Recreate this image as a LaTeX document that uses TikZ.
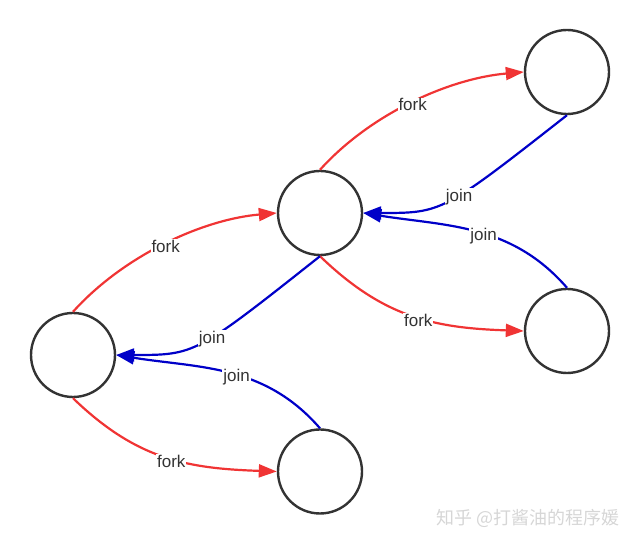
\documentclass[tikz,border=0pt]{standalone}
\usepackage{fontspec}
\setmainfont{Liberation Sans}
\newfontfamily\cjkfont{Noto Sans CJK SC}
\usetikzlibrary{arrows.meta,calc}
\definecolor{forkred}{HTML}{F03434}
\definecolor{joinblue}{HTML}{0000C8}
\definecolor{ink}{HTML}{333333}
\tikzset{
  state/.style={circle,draw=ink,line width=2.4pt,minimum size=84pt,inner sep=0pt},
  forkedge/.style={draw=forkred,line width=2.2pt,-{Triangle[length=18pt,width=13pt]}},
  joinedge/.style={draw=joinblue,line width=2.2pt,-{Triangle[length=18pt,width=13pt]}},
  lbl/.style={fill=white,text=ink,font=\fontsize{17}{20}\selectfont,inner sep=1pt,yshift=-2.5pt},
  fabout/.style={out=48,in=185,looseness=0.85},
  faeout/.style={out=-44,in=178,looseness=1.05},
  jeaout/.style={out=131,in=-9}
}
\begin{document}
\begin{tikzpicture}[x=1pt,y=1pt]
\useasboundingbox (0,0) rectangle (640,545);
\node[state] (A) at (73,190) {};
\node[state] (B) at (320,332) {};
\node[state] (C) at (567,473) {};
\node[state] (D) at (567,214) {};
\node[state] (E) at (320,73.5) {};
% fork edges
\draw[forkedge] (A.north) to[fabout] node[lbl]{fork} (B.west);
\draw[forkedge] (B.north) to[fabout] node[lbl]{fork} (C.west);
\draw[forkedge] (A.south) to[faeout] node[lbl,pos=0.53]{fork} (E.west);
\draw[forkedge] (B.south) to[faeout] node[lbl,pos=0.53]{fork} (D.west);
% join edges
\draw[joinedge] (B.south) .. controls ($(A.east)+(79,0)$) .. node[lbl,pos=0.43]{join} (A.east);
\draw[joinedge] (C.south) .. controls ($(B.east)+(79,0)$) .. node[lbl,pos=0.43]{join} (B.east);
\draw[joinedge] (E.north) to[jeaout] node[lbl,pos=0.46]{join} (A.east);
\draw[joinedge] (D.north) to[jeaout] node[lbl,pos=0.46]{join} (B.east);
% watermark
\node[text=black!16,font=\cjkfont\fontsize{18}{20}\selectfont] (wm) at (528,27) {知乎 @打酱油的程序媛};
\end{tikzpicture}
\end{document}
